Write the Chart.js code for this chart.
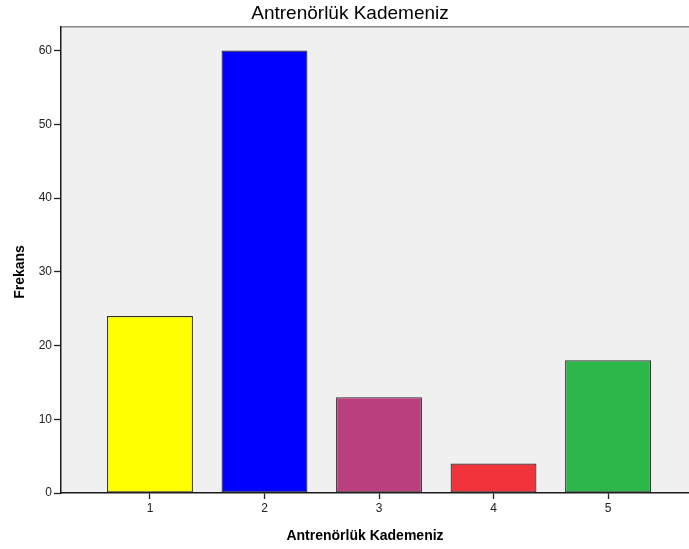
<!DOCTYPE html>
<html>
<head>
<meta charset="utf-8">
<script src="https://cdn.jsdelivr.net/npm/chart.js@4"></script>
<style>
  html, body { margin: 0; padding: 0; background: #ffffff; }
  #wrap { width: 689px; height: 549px; position: relative; }
</style>
</head>
<body>
<div id="wrap"><canvas id="c" width="689" height="549"></canvas></div>
<script>
// Coaching level categories and their frequencies
const categories = [1, 2, 3, 4, 5];
const frequencies = [24, 60, 13, 4, 18];
const barColors = ['#ffff00', '#0000ff', '#bb4080', '#f1333b', '#2db74a'];
const yTicks = [0, 10, 20, 30, 40, 50, 60];

const chartTitle = 'Antrenörlük Kademeniz';
const xTitle = 'Antrenörlük Kademeniz';
const yTitle = 'Frekans';

const points = categories.map((c, i) => ({ x: c, y: frequencies[i] }));

const frame = {
  id: 'frame',
  beforeDraw(chart) {
    const { ctx, chartArea: a } = chart;
    ctx.save();
    ctx.fillStyle = '#f0f0f0';
    ctx.fillRect(a.left, a.top, a.right - a.left, a.bottom - a.top);
    ctx.strokeStyle = '#8a8a8a';
    ctx.lineWidth = 1;
    ctx.beginPath();
    ctx.moveTo(a.left, a.top - 0.5);
    ctx.lineTo(a.right, a.top - 0.5);
    ctx.stroke();
    ctx.strokeStyle = '#bdbdbd';
    ctx.beginPath();
    ctx.moveTo(a.left, a.top + 0.5);
    ctx.lineTo(a.right, a.top + 0.5);
    ctx.stroke();
    ctx.restore();
  },
  afterDraw(chart) {
    const { ctx } = chart;
    ctx.save();
    ctx.fillStyle = '#000000';
    ctx.textAlign = 'center';
    ctx.textBaseline = 'middle';
    ctx.font = '19px "Liberation Sans", Arial, sans-serif';
    ctx.fillText(chartTitle, 350, 14);
    ctx.font = 'bold 14px "Liberation Sans", Arial, sans-serif';
    ctx.fillText(xTitle, 365, 536);
    ctx.translate(20, 272);
    ctx.rotate(-Math.PI / 2);
    ctx.fillText(yTitle, 0, 0);
    ctx.restore();
  }
};

new Chart(document.getElementById('c'), {
  type: 'bar',
  data: {
    datasets: [{
      data: points,
      backgroundColor: barColors,
      borderColor: '#2e2e2e',
      borderWidth: 1.2,
      borderSkipped: false,
      barPercentage: 0.75,
      categoryPercentage: 1.0
    }]
  },
  options: {
    responsive: false,
    animation: false,
    events: [],
    layout: { padding: { top: 27, left: 0, right: 0, bottom: 0 } },
    plugins: { legend: { display: false }, tooltip: { enabled: false }, title: { display: false } },
    scales: {
      x: {
        type: 'linear',
        offset: false,
        min: 0.223,
        max: 5.707,
        afterBuildTicks: s => { s.ticks = categories.map(v => ({ value: v })); },
        afterFit: s => { s.height = 56; },
        border: { display: true, color: '#1a1a1a', width: 1.5 },
        grid: { drawOnChartArea: false, drawTicks: true, tickLength: 6, tickColor: '#222222', tickWidth: 1.3, offset: false },
        ticks: {
          color: '#222222',
          padding: 2,
          font: { family: '"Liberation Sans", Arial, sans-serif', size: 12 },
          callback: v => String(v)
        }
      },
      y: {
        type: 'linear',
        min: 0,
        max: 63.2,
        afterBuildTicks: s => { s.ticks = yTicks.map(v => ({ value: v })); },
        afterFit: s => { s.width = 61; },
        border: { display: true, color: '#1a1a1a', width: 1.5 },
        grid: { drawOnChartArea: false, drawTicks: true, tickLength: 7, tickColor: '#222222', tickWidth: 1.3 },
        ticks: {
          color: '#222222',
          padding: 2,
          font: { family: '"Liberation Sans", Arial, sans-serif', size: 12 },
          callback: v => String(v)
        }
      }
    }
  },
  plugins: [frame]
});
</script>
</body>
</html>
